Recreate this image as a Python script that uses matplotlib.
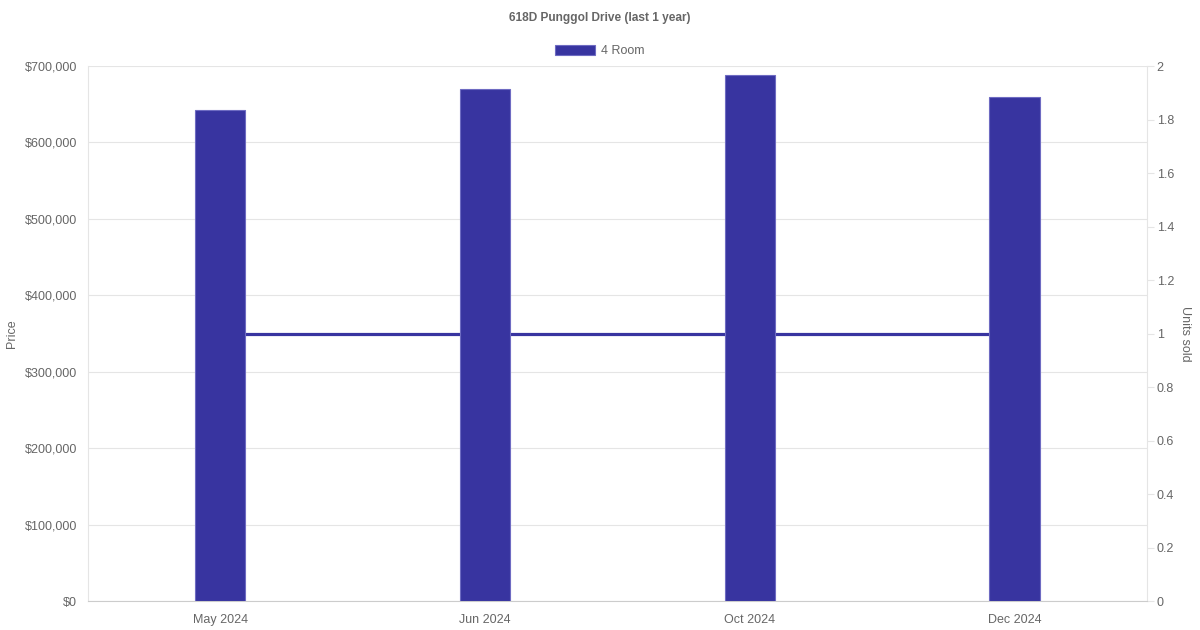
import numpy as np
import matplotlib.pyplot as plt
from matplotlib.patches import Rectangle
from matplotlib.ticker import FuncFormatter

plt.rcParams['font.family'] = ['Liberation Sans', 'DejaVu Sans']

months = ['May 2024', 'Jun 2024', 'Oct 2024', 'Dec 2024']
prices = [642000, 669500, 688000, 659500]
units = [1, 1, 1, 1]

bar_color = '#3834a0'
text_color = '#666666'
grid_color = '#e5e5e5'

fig = plt.figure(figsize=(12, 6.3), dpi=100)
ax = fig.add_axes([0.0733, 0.046, 0.8825, 0.8492])
ax2 = ax.twinx()

x = np.arange(len(months))

# units line sits behind the price bars
ax2.plot(x, units, color=bar_color, linewidth=2.3, zorder=1)
ax.set_zorder(ax2.get_zorder() + 1)
ax.patch.set_visible(False)
ax.bar(x, prices, width=0.19, color=bar_color, edgecolor='#6e6bc2', linewidth=0.8, zorder=3)

ax.set_xlim(-0.5, len(months) - 0.5)
ax.set_ylim(0, 700000)
ax.set_yticks(np.arange(0, 700001, 100000))
ax.yaxis.set_major_formatter(FuncFormatter(lambda v, p: '${:,.0f}'.format(v)))
ax.set_xticks(x)
ax.set_xticklabels(months)
ax.grid(axis='y', color=grid_color, linewidth=0.8, zorder=0)
ax.set_axisbelow(True)

ax2.set_ylim(0, 2)
ax2.set_yticks(np.arange(0, 2.01, 0.2))
ax2.yaxis.set_major_formatter(FuncFormatter(lambda v, p: '{:g}'.format(round(v, 1))))

for a in (ax, ax2):
    for s in a.spines.values():
        s.set_visible(False)
ax.spines['left'].set_visible(True)
ax.spines['left'].set_color(grid_color)
ax.spines['bottom'].set_visible(True)
ax.spines['bottom'].set_color('#cccccc')
ax2.spines['right'].set_visible(True)
ax2.spines['right'].set_color(grid_color)

ax.tick_params(axis='y', length=0, pad=8, labelsize=9, labelcolor=text_color)
ax.tick_params(axis='x', length=0, pad=9, labelsize=9, labelcolor=text_color)
ax2.tick_params(axis='y', length=5, color=grid_color, pad=2, labelsize=9, labelcolor=text_color)

ax.set_ylabel('Price', color=text_color, fontsize=9, labelpad=4.5)
ax2.set_ylabel('Units sold', color=text_color, fontsize=9, rotation=-90, labelpad=12)

fig.text(0.5, 0.971, '618D Punggol Drive (last 1 year)', ha='center', va='center',
         fontsize=8.6, fontweight='bold', color=text_color)

handle = Rectangle((0, 0), 1, 1, facecolor=bar_color, edgecolor='#6e6bc2', linewidth=0.8)
fig.legend([handle], ['4 Room'], loc='center', bbox_to_anchor=(0.5, 0.919), frameon=False,
           fontsize=9, labelcolor=text_color, handlelength=3.2, handleheight=0.9,
           handletextpad=0.5)

fig.savefig('out.png', dpi=100)
